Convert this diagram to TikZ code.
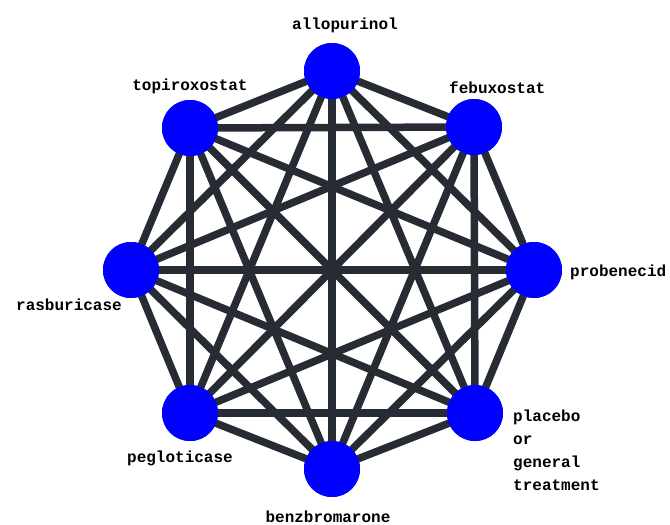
\documentclass[tikz,border=0pt]{standalone}
\usepackage{fontspec}
\newfontfamily\lblfont{Liberation Mono}
\definecolor{edgecol}{HTML}{272B33}
\definecolor{nodecol}{HTML}{0000FF}
\tikzset{
  drug/.style={circle, fill=nodecol, draw=none, minimum size=56pt, inner sep=0pt},
  edge/.style={draw=edgecol, line width=7.5pt},
  lbl/.style={font=\lblfont\bfseries\fontsize{16}{23}\selectfont, inner sep=0pt, text=black}
}
\begin{document}
\begin{tikzpicture}[x=1pt,y=-1pt]
\useasboundingbox (0,0) rectangle (670,525);
\fill[white] (0,0) rectangle (670,525);
\coordinate (c) at (332,270);
\node[drug] (allo) at (332,71) {};
\node[drug] (febu) at (474,127) {};
\node[drug] (prob) at (534,270) {};
\node[drug] (plac) at (475,413) {};
\node[drug] (benz) at (332,469) {};
\node[drug] (pegl) at (190,413) {};
\node[drug] (rasb) at (131,270) {};
\node[drug] (topi) at (190,128) {};
\foreach \a/\b in {allo/febu,allo/prob,allo/plac,allo/benz,allo/pegl,allo/rasb,allo/topi,
  febu/prob,febu/plac,febu/benz,febu/pegl,febu/rasb,febu/topi,
  prob/plac,prob/benz,prob/pegl,prob/rasb,prob/topi,
  plac/benz,plac/pegl,plac/rasb,plac/topi,
  benz/pegl,benz/rasb,benz/topi,
  pegl/rasb,pegl/topi,
  rasb/topi}
  \draw[edge] (\a.center) -- (\b.center);
\foreach \n in {allo,febu,prob,plac,benz,pegl,rasb,topi}
  \fill[nodecol] (\n) circle (28pt);
\node[lbl] (lallo) at (345,25) {allopurinol};
\node[lbl, anchor=west] (lfebu) at (449,88) {febuxostat};
\node[lbl, anchor=west] (lprob) at (570,272) {probenecid};
\node[lbl, anchor=north west, align=left] (lplac) at (513,410) {placebo\\or\\general\\treatment};
\node[lbl] (lbenz) at (328,517) {benzbromarone};
\node[lbl] (lpegl) at (180,458) {pegloticase};
\node[lbl] (lrasb) at (69,305) {rasburicase};
\node[lbl] (ltopi) at (190,86) {topiroxostat};
\end{tikzpicture}
\end{document}
